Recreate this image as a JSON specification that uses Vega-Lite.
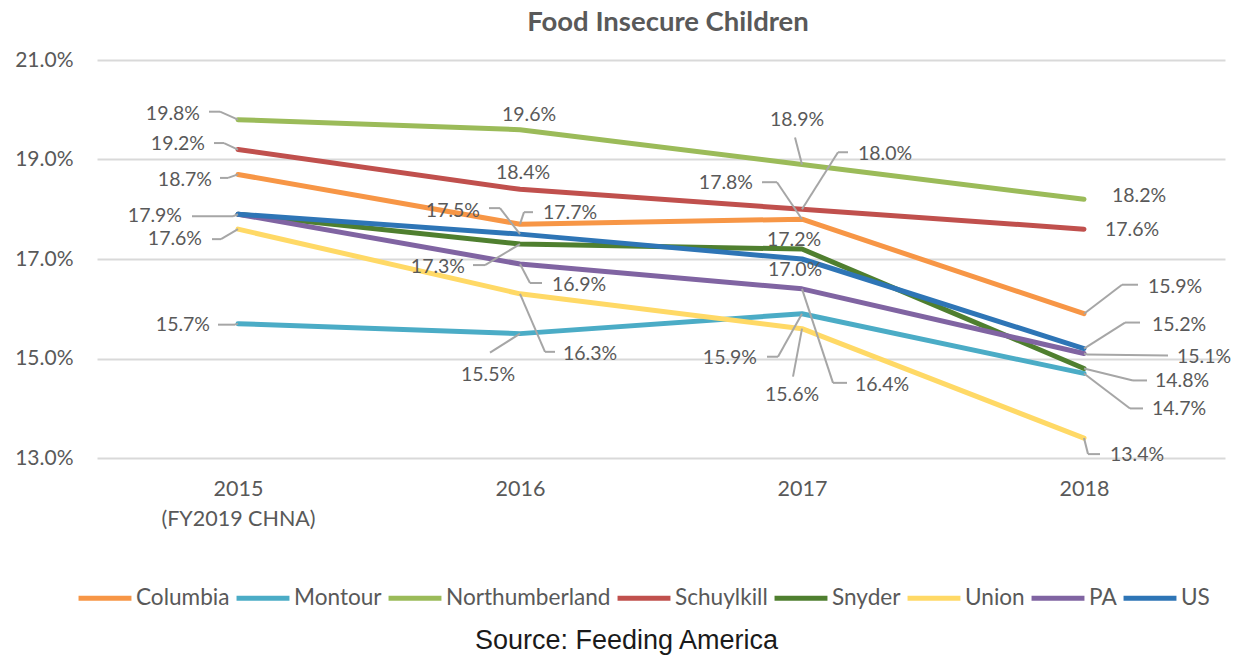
{
  "$schema": "https://vega.github.io/schema/vega-lite/v6.json",
  "autosize": "none",
  "width": 1128,
  "height": 398,
  "padding": {"left": 97, "top": 60, "right": 17, "bottom": 198},
  "background": "white",
  "title": {"text": "Food Insecure Children", "font": "Lato", "fontSize": 27.5, "fontWeight": "bold", "color": "#595959", "anchor": "middle", "frame": "group", "offset": 13, "dx": 7},
  "params": [
    {"name": "L", "value": {
      "Northumberland|2015": [-38, -6, "right", -18, -8, -29, -8],
      "Schuylkill|2015": [-33, -5.5, "right", -14, -6.5, -24, -6.5],
      "Columbia|2015": [-26, 5.5, "right", -10, 3.5, -18, 3.5],
      "US|2015": [-56, 2, "right", -5, 2, -46, 2],
      "Union|2015": [-36, 10, "right", -17, 10, -26, 10],
      "Montour|2015": [-28, 1, "right", -3, 1, -20, 1],
      "Northumberland|2016": [9, -15, "center", 0, 0, 0, 0],
      "Schuylkill|2016": [3, -16, "center", 0, 0, 0, 0],
      "US|2016": [-40, -23, "right", -20, -26, -31, -26],
      "Columbia|2016": [23, -11, "left", 4, -12, 13, -12],
      "Snyder|2016": [-55, 23, "right", -35, 21, -47, 21],
      "PA|2016": [32, 21, "left", 10, 19, 22, 19],
      "Union|2016": [43, 60, "left", 25, 58, 35, 58],
      "Montour|2016": [-32, 41, "center", -30, 19, -30, 19],
      "Northumberland|2017": [-5, -44, "center", -7, -27, -7, -27],
      "Schuylkill|2017": [56, -55, "left", 36, -57, 46, -57],
      "Columbia|2017": [-49, -36, "right", -25, -37, -40, -37],
      "Snyder|2017": [-8, -9, "center", 0, 0, 0, 0],
      "US|2017": [-7, 11, "center", 0, 0, 0, 0],
      "PA|2017": [53, 96, "left", 31, 94, 45, 94],
      "Montour|2017": [-45, 44, "right", -24, 43, -35, 43],
      "Union|2017": [-10, 66, "center", -9, 48, -9, 48],
      "Northumberland|2018": [28, -3, "left", 0, 0, 0, 0],
      "Schuylkill|2018": [21, 1, "left", 0, 0, 0, 0],
      "Columbia|2018": [64, -27, "left", 38, -29, 54, -29],
      "US|2018": [68, -24, "left", 41, -26, 56, -26],
      "PA|2018": [93, 3, "left", 3, 1, 84, 2],
      "Snyder|2018": [71, 13, "left", 49, 12, 63, 12],
      "Montour|2018": [68, 36, "left", 46, 35, 59, 35],
      "Union|2018": [26, 17, "left", 4, 16, 16, 16]
    }}
  ],
  "data": {"values": [
    {"Series": "Columbia", "Year": "2015", "Value": 0.187},
    {"Series": "Columbia", "Year": "2016", "Value": 0.177},
    {"Series": "Columbia", "Year": "2017", "Value": 0.178},
    {"Series": "Columbia", "Year": "2018", "Value": 0.159},
    {"Series": "Montour", "Year": "2015", "Value": 0.157},
    {"Series": "Montour", "Year": "2016", "Value": 0.155},
    {"Series": "Montour", "Year": "2017", "Value": 0.159},
    {"Series": "Montour", "Year": "2018", "Value": 0.147},
    {"Series": "Northumberland", "Year": "2015", "Value": 0.198},
    {"Series": "Northumberland", "Year": "2016", "Value": 0.196},
    {"Series": "Northumberland", "Year": "2017", "Value": 0.189},
    {"Series": "Northumberland", "Year": "2018", "Value": 0.182},
    {"Series": "Schuylkill", "Year": "2015", "Value": 0.192},
    {"Series": "Schuylkill", "Year": "2016", "Value": 0.184},
    {"Series": "Schuylkill", "Year": "2017", "Value": 0.180},
    {"Series": "Schuylkill", "Year": "2018", "Value": 0.176},
    {"Series": "Snyder", "Year": "2015", "Value": 0.179},
    {"Series": "Snyder", "Year": "2016", "Value": 0.173},
    {"Series": "Snyder", "Year": "2017", "Value": 0.172},
    {"Series": "Snyder", "Year": "2018", "Value": 0.148},
    {"Series": "Union", "Year": "2015", "Value": 0.176},
    {"Series": "Union", "Year": "2016", "Value": 0.163},
    {"Series": "Union", "Year": "2017", "Value": 0.156},
    {"Series": "Union", "Year": "2018", "Value": 0.134},
    {"Series": "PA", "Year": "2015", "Value": 0.179},
    {"Series": "PA", "Year": "2016", "Value": 0.169},
    {"Series": "PA", "Year": "2017", "Value": 0.164},
    {"Series": "PA", "Year": "2018", "Value": 0.151},
    {"Series": "US", "Year": "2015", "Value": 0.179},
    {"Series": "US", "Year": "2016", "Value": 0.175},
    {"Series": "US", "Year": "2017", "Value": 0.170},
    {"Series": "US", "Year": "2018", "Value": 0.152}
  ]},
  "encoding": {
    "x": {"field": "Year", "type": "ordinal", "scale": {"type": "point", "padding": 0.5},
      "axis": {"labelExpr": "datum.value == '2015' ? ['2015', '(FY2019 CHNA)'] : datum.label",
        "title": "Source: Feeding America"}},
    "y": {"field": "Value", "type": "quantitative",
      "scale": {"domain": [0.13, 0.21], "nice": false, "zero": false},
      "axis": {"values": [0.13, 0.15, 0.17, 0.19, 0.21], "format": ".1%", "title": null}}
  },
  "layer": [
    {
      "mark": {"type": "line", "strokeWidth": 5, "strokeJoin": "round", "strokeCap": "round"},
      "encoding": {
        "color": {"field": "Series", "type": "nominal",
          "scale": {"domain": ["Columbia", "Montour", "Northumberland", "Schuylkill", "Snyder", "Union", "PA", "US"],
            "range": ["#F79646", "#4BACC6", "#9BBB59", "#C0504D", "#4F7F2F", "#FFD966", "#8064A2", "#2E75B6"]},
          "legend": {"title": null, "orient": "none", "direction": "horizontal", "legendX": -21, "legendY": 509,
            "symbolType": "stroke", "symbolSize": 2800, "symbolStrokeWidth": 5,
            "labelFont": "Lato", "labelFontSize": 22.6, "labelColor": "#595959", "labelOffset": 2, "labelLimit": 400,
            "columnPadding": -4, "padding": 0}}
      }
    },
    {
      "transform": [{"filter": "isValid(L[datum.Series + '|' + datum.Year])"}],
      "mark": {"type": "rule", "color": "#A6A6A6", "strokeWidth": 2, "strokeCap": "butt",
        "x2Offset": {"expr": "L[datum.Series + '|' + datum.Year][3]"},
        "y2Offset": {"expr": "L[datum.Series + '|' + datum.Year][4]"}},
      "encoding": {"x2": {"field": "Year"}, "y2": {"field": "Value"}}
    },
    {
      "transform": [{"filter": "isValid(L[datum.Series + '|' + datum.Year])"}],
      "mark": {"type": "rule", "color": "#A6A6A6", "strokeWidth": 2, "strokeCap": "butt",
        "xOffset": {"expr": "L[datum.Series + '|' + datum.Year][3]"},
        "yOffset": {"expr": "L[datum.Series + '|' + datum.Year][4]"},
        "x2Offset": {"expr": "L[datum.Series + '|' + datum.Year][5]"},
        "y2Offset": {"expr": "L[datum.Series + '|' + datum.Year][6]"}},
      "encoding": {"x2": {"field": "Year"}, "y2": {"field": "Value"}}
    },
    {
      "transform": [{"filter": "isValid(L[datum.Series + '|' + datum.Year])"}],
      "mark": {"type": "text", "font": "Lato", "fontSize": 19.5, "color": "#595959", "baseline": "middle",
        "dx": {"expr": "L[datum.Series + '|' + datum.Year][0]"},
        "dy": {"expr": "L[datum.Series + '|' + datum.Year][1]"},
        "align": {"expr": "L[datum.Series + '|' + datum.Year][2]"}},
      "encoding": {"text": {"field": "Value", "type": "quantitative", "format": ".1%"}}
    }
  ],
  "config": {
    "view": {"stroke": null},
    "axisY": {"domain": false, "ticks": false, "tickSize": 0, "grid": true, "gridColor": "#D9D9D9", "gridWidth": 2,
      "labelFont": "Lato", "labelFontSize": 21, "labelColor": "#595959", "labelPadding": 24},
    "axisX": {"domain": false, "ticks": false, "tickSize": 0, "grid": false, "labelAngle": 0,
      "labelFont": "Lato", "labelFontSize": 21.5, "labelColor": "#595959", "labelPadding": 20, "labelBaseline": "top", "labelLineHeight": 30,
      "titleFont": "Liberation Sans", "titleFontSize": 27, "titleFontWeight": "normal", "titleColor": "#1A1A1A",
      "titleX": 529, "titleY": 182, "titleBaseline": "middle", "titleAlign": "center"}
  }
}
